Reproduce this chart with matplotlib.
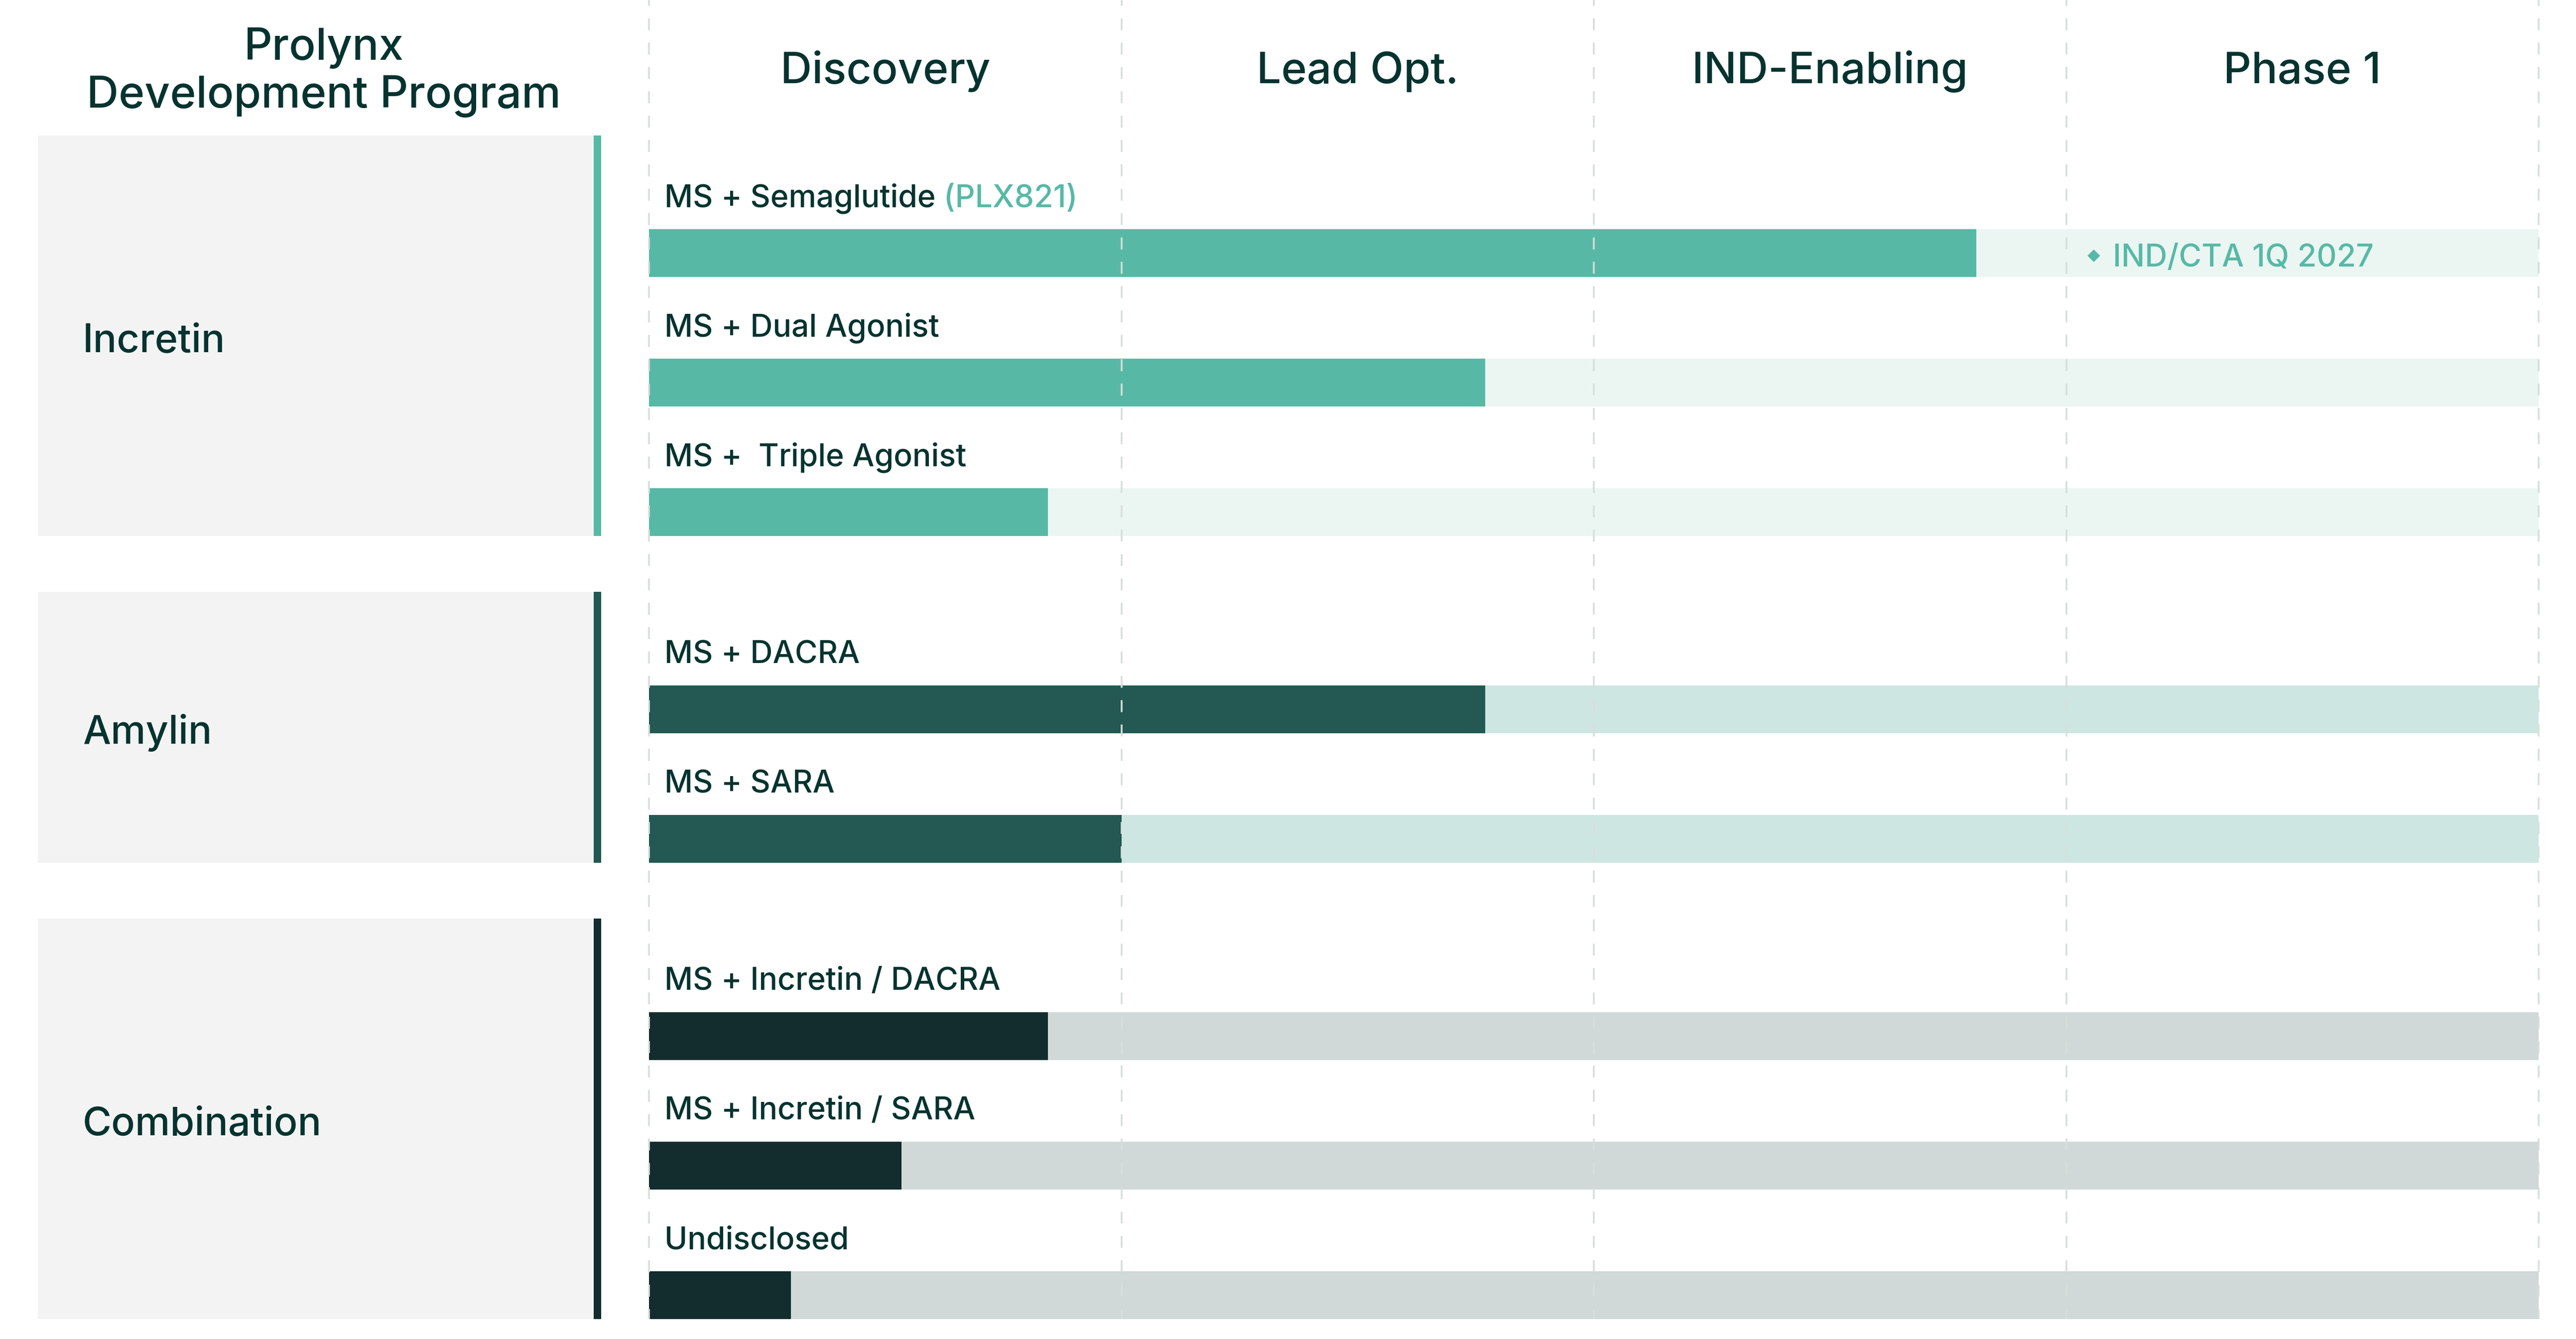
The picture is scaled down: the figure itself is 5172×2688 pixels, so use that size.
import matplotlib
matplotlib.use("Agg")
import matplotlib.pyplot as plt
from matplotlib.patches import Rectangle

plt.rcParams['font.family'] = ['Inter', 'DejaVu Sans']
plt.rcParams['font.weight'] = 'medium'
plt.rcParams['lines.scale_dashes'] = False

# ---------------- data ----------------
title_lines = ["Prolynx", "Development Program"]
stages = ["Discovery", "Lead Opt.", "IND-Enabling", "Phase 1"]
groups = ["Incretin", "Amylin", "Combination"]
programs = [
    "MS + Semaglutide",
    "MS + Dual Agonist",
    "MS +  Triple Agonist",
    "MS + DACRA",
    "MS + SARA",
    "MS + Incretin / DACRA",
    "MS + Incretin / SARA",
    "Undisclosed",
]
program_group = [0, 0, 0, 1, 1, 2, 2, 2]
progress = [2.81, 1.77, 0.845, 1.77, 1.0, 0.845, 0.535, 0.30]   # in stage units (0-4)
program_tag = {0: "(PLX821)"}
milestone_program = 0
milestone_text = "IND/CTA 1Q 2027"

# ---------------- styles ----------------
group_colors = ["#57B9A5", "#245852", "#132C2E"]
track_colors = ["#EBF6F3", "#CDE6E2", "#D0D9D7"]
text_color = "#06332F"
box_color = "#F3F3F3"
grid_color = "#D7DEDC"

W, H = 5172, 2688
X0, STAGE_W = 1303, 948.5          # pixel position of stage 0 and width of a stage
FIRST_BAR_TOP = 460
ROW_PITCH = 260
BAR_H = 96
GROUP_GAP = 136
BOX_PAD_TOP = 188

FS_TITLE = 64
FS_STAGE = 63
FS_GROUP = 57
FS_LABEL = 45


def px(x):
    return (x - X0) / STAGE_W


fig = plt.figure(figsize=(W / 100, H / 100), dpi=100, facecolor="white")
ax = fig.add_axes([0, 0, 1, 1])
ax.set_xlim(px(0), px(W))
ax.set_ylim(H, 0)
ax.axis("off")

# row positions
tops = []
y = FIRST_BAR_TOP
for i, g in enumerate(program_group):
    if i > 0:
        y += ROW_PITCH
        if g != program_group[i - 1]:
            y += GROUP_GAP
    tops.append(y)
centers = [t + BAR_H / 2 for t in tops]
n_stages = len(stages)

# tracks and bars
for i, (c, v, g) in enumerate(zip(centers, progress, program_group)):
    ax.barh(c, n_stages, height=BAR_H, left=0, color=track_colors[g], zorder=1)
    ax.barh(c, v, height=BAR_H, left=0, color=group_colors[g], zorder=2)
    t = ax.text(px(1334), tops[i] - 45, programs[i], fontsize=FS_LABEL, color=text_color,
                ha="left", va="baseline", zorder=5)
    if i in program_tag:
        ax.annotate(" " + program_tag[i], xy=(1, 0), xycoords=t, ha="left", va="bottom",
                    fontsize=FS_LABEL, color=group_colors[g], zorder=5)

# milestone
mc = centers[milestone_program]
mcol = group_colors[program_group[milestone_program]]
ax.text(px(4204), mc + 4, "\u25C6", fontsize=24, color=mcol, ha="center", va="center",
        family=["DejaVu Sans"], zorder=5)
ax.text(px(4242), mc + 27, milestone_text, fontsize=FS_LABEL, color=mcol, ha="left",
        va="baseline", zorder=5)

# grid lines
bottom = tops[-1] + BAR_H
for k in range(n_stages + 1):
    ax.plot([k, k], [0, bottom], color=grid_color, lw=2.6,
            linestyle=(8.8, (17.3, 17.9)), zorder=3, solid_capstyle="butt")

# group boxes
for gi, gname in enumerate(groups):
    idx = [i for i, g in enumerate(program_group) if g == gi]
    btop = tops[idx[0]] - BOX_PAD_TOP
    bbot = tops[idx[-1]] + BAR_H
    ax.add_patch(Rectangle((px(76), btop), px(1192) - px(76), bbot - btop,
                           facecolor=box_color, edgecolor="none", zorder=1))
    ax.add_patch(Rectangle((px(1192), btop), 15 / STAGE_W, bbot - btop,
                           facecolor=group_colors[gi], edgecolor="none", zorder=1))
    ax.text(px(166), (btop + bbot) / 2 + 33, gname, fontsize=FS_GROUP, color=text_color,
            ha="left", va="baseline", zorder=5)

# headers
ax.text(px(650), 120, title_lines[0], fontsize=FS_TITLE, color=text_color, ha="center", va="baseline")
ax.text(px(650), 216, title_lines[1], fontsize=FS_TITLE, color=text_color, ha="center", va="baseline")
for k, s in enumerate(stages):
    ax.text(k + 0.5, 167, s, fontsize=FS_STAGE, color=text_color, ha="center", va="baseline")

fig.savefig("out.png", dpi=100, facecolor="white")
